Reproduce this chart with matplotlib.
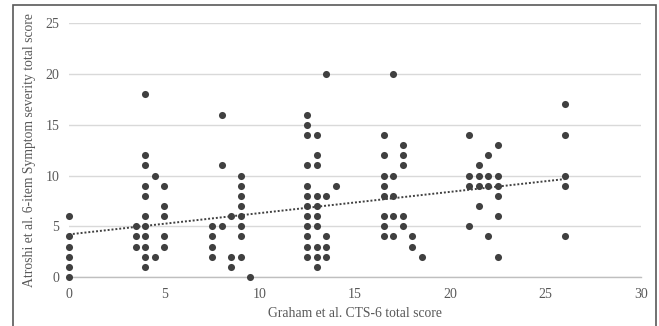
import numpy as np
import matplotlib
matplotlib.use("Agg")
import matplotlib.pyplot as plt
from matplotlib.patches import Rectangle

# Graham et al. CTS-6 score columns and the Atroshi scores observed at each
cts6_columns = [0, 3.5, 4, 4.5, 5, 7.5, 8, 8.5, 9, 9.5, 12.5, 13, 13.5, 14,
                16.5, 17, 17.5, 18, 18.5, 21, 21.5, 22, 22.5, 26]
atroshi_by_column = [
    [0, 1, 2, 3, 4, 6],
    [3, 4, 5],
    [1, 2, 3, 4, 5, 6, 8, 9, 11, 12, 18],
    [2, 10],
    [3, 4, 6, 7, 9],
    [2, 3, 4, 5],
    [5, 11, 16],
    [1, 2, 6],
    [2, 4, 5, 6, 7, 8, 9, 10],
    [0],
    [2, 3, 4, 5, 6, 7, 8, 9, 11, 14, 15, 16],
    [1, 2, 3, 5, 6, 7, 8, 11, 12, 14],
    [2, 3, 4, 8, 20],
    [9],
    [4, 5, 6, 8, 9, 10, 12, 14],
    [4, 6, 8, 10, 20],
    [5, 6, 11, 12, 13],
    [3, 4],
    [2],
    [5, 9, 10, 14],
    [7, 9, 10, 11],
    [4, 9, 10, 12],
    [2, 6, 8, 9, 10, 13],
    [4, 9, 10, 14, 17],
]
# linear trendline as shown in the chart
trend_x = [0, 26]
trend_y = [4.2, 9.65]
x_ticks = [0, 5, 10, 15, 20, 25, 30]
y_ticks = [0, 5, 10, 15, 20, 25]

xs = np.concatenate([[c] * len(v) for c, v in zip(cts6_columns, atroshi_by_column)])
ys = np.concatenate(atroshi_by_column).astype(float)

plt.rcParams['font.family'] = ['Liberation Serif', 'DejaVu Serif']
fig = plt.figure(figsize=(6.59, 3.26), dpi=100)
ax = fig.add_axes([0.1047, 0.1503, 0.868, 0.7782])

text_col = '#595959'
ax.set_xlim(0, 30)
ax.set_ylim(0, 25)
ax.set_xticks(x_ticks)
ax.set_yticks(y_ticks)
ax.yaxis.grid(True, color='#d9d9d9', linewidth=1.0)
ax.set_axisbelow(True)
for s in ['top', 'right', 'left']:
    ax.spines[s].set_visible(False)
ax.spines['bottom'].set_color('#bfbfbf')
ax.spines['bottom'].set_linewidth(1.0)
ax.tick_params(axis='x', length=0, labelsize=10, colors=text_col, pad=8)
ax.tick_params(axis='y', length=0, labelsize=10, colors=text_col, pad=7)

ax.scatter(xs, ys, s=26, color='#404040', zorder=3, clip_on=False, linewidths=0)

ax.plot(trend_x, trend_y, linestyle=(0, (1, 1)), color='#404040', linewidth=1.4, zorder=4)

ax.set_xlabel('Graham et al. CTS-6 total score', fontsize=9.8, color=text_col, labelpad=4)
ax.set_ylabel('Atroshi et al. 6-item Symptom severity total score', fontsize=9.8,
              color=text_col, labelpad=7)

fig.patches.append(Rectangle((13 / 659, -0.1), (656 - 13) / 659, 1.1 - 5 / 326,
                             transform=fig.transFigure, fill=False,
                             edgecolor='#595959', linewidth=1.2))
fig.savefig('out.png', dpi=100)
